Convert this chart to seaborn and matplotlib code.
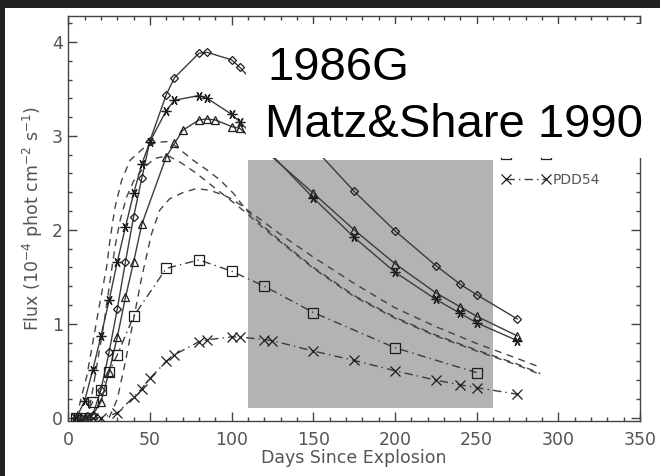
import matplotlib
matplotlib.use("Agg")
import matplotlib.pyplot as plt
from matplotlib.patches import Rectangle
from matplotlib.ticker import MultipleLocator
import seaborn as sns

# ---------------- data ----------------
dia_x = [5, 10, 15, 20, 25, 30, 35, 40, 45, 50, 60, 65, 80, 85, 100, 105, 150, 175, 200, 225, 240, 250, 275]
dia_y = [0.0, 0.0, 0.03, 0.30, 0.70, 1.16, 1.66, 2.14, 2.55, 2.95, 3.44, 3.62, 3.88, 3.89, 3.81, 3.73, 2.88, 2.41, 1.99, 1.62, 1.42, 1.31, 1.05]

star_x = [5, 10, 15, 20, 25, 30, 35, 40, 45, 50, 60, 65, 80, 85, 100, 105, 150, 175, 200, 225, 240, 250, 275]
star_y = [0.0, 0.18, 0.51, 0.87, 1.25, 1.66, 2.03, 2.39, 2.70, 2.94, 3.27, 3.38, 3.43, 3.40, 3.23, 3.15, 2.34, 1.92, 1.55, 1.26, 1.11, 1.01, 0.82]

tri_x = [5, 10, 15, 20, 25, 30, 35, 40, 45, 60, 65, 70, 80, 85, 90, 100, 105, 150, 175, 200, 225, 240, 250, 275]
tri_y = [0.0, 0.0, 0.03, 0.17, 0.49, 0.86, 1.28, 1.66, 2.06, 2.78, 2.92, 3.06, 3.17, 3.18, 3.17, 3.10, 3.08, 2.39, 2.00, 1.64, 1.33, 1.18, 1.08, 0.87]

sq_x = [5, 10, 15, 20, 25, 30, 40, 60, 80, 100, 120, 150, 200, 250]
sq_y = [0.0, 0.0, 0.17, 0.30, 0.49, 0.67, 1.08, 1.59, 1.68, 1.56, 1.40, 1.12, 0.745, 0.48]

x54_x = [5, 10, 15, 20, 30, 40, 45, 50, 60, 65, 80, 85, 100, 105, 120, 125, 150, 175, 200, 225, 240, 250, 275]
x54_y = [0.0, 0.0, 0.0, 0.0, 0.05, 0.22, 0.31, 0.42, 0.60, 0.67, 0.81, 0.83, 0.86, 0.86, 0.83, 0.82, 0.71, 0.61, 0.50, 0.40, 0.35, 0.32, 0.25]

modA_x = [5, 8, 11.3, 15.3, 19.4, 23.5, 25.5, 28.6, 32.7, 37.8, 46, 54, 60, 65, 69.4, 76.5, 84.7, 92.9, 101, 109, 120, 130, 150, 175, 200, 225, 250, 275, 289]
modA_y = [0.0, 0.22, 0.44, 0.83, 1.23, 1.61, 1.89, 2.24, 2.53, 2.74, 2.87, 2.93, 2.94, 2.90, 2.84, 2.74, 2.64, 2.53, 2.39, 2.21, 2.03, 1.88, 1.60, 1.30, 1.07, 0.88, 0.72, 0.57, 0.47]

modB_x = [10, 12, 14, 17.4, 21.8, 25.5, 28.6, 31.7, 35.7, 40, 46, 53, 61, 69.4, 78.6, 88.7, 99, 109, 120, 130, 150, 175, 200, 225, 250, 275, 289]
modB_y = [0.0, 0.05, 0.2, 0.55, 1.0, 1.45, 1.82, 2.10, 2.35, 2.52, 2.66, 2.76, 2.79, 2.71, 2.60, 2.46, 2.32, 2.18, 2.01, 1.87, 1.59, 1.29, 1.06, 0.87, 0.71, 0.56, 0.46]

modC_x = [25, 30, 35, 40, 45, 51, 56, 62, 70.5, 78.6, 86.8, 95, 101, 109, 120, 130, 150, 175, 200, 225, 250, 275, 287]
modC_y = [0.0, 0.2, 0.6, 1.05, 1.5, 1.96, 2.21, 2.33, 2.40, 2.44, 2.42, 2.37, 2.32, 2.22, 2.08, 1.95, 1.71, 1.43, 1.17, 0.97, 0.79, 0.63, 0.55]

legend_labels = [" ", "PDD54"]
shade_x = [110, 260]
shade_y = [0.1, 2.74]

# ---------------- style ----------------
sns.set_style("ticks")
plt.rcParams["font.family"] = ["DejaVu Sans"]

W, H = 660, 476
fig = plt.figure(figsize=(W / 100, H / 100), dpi=100)
fig.patch.set_facecolor("#222222")
fig.patches.append(Rectangle((5 / W, 0), 1, 468 / H, transform=fig.transFigure,
                             facecolor="white", edgecolor="none", zorder=-1))

ax = fig.add_axes([68.3 / W, 1 - 421 / H, (640 - 68.3) / W, (421 - 15.7) / H])
ax.set_facecolor("white")

lc = "#3c3c3c"
mc = "#1e1e1e"

def series(x, y, marker, ms, ls, dashes=None):
    kw = dict(color=lc, lw=1.0, marker=marker, markersize=ms, markerfacecolor="none",
              markeredgecolor=mc, markeredgewidth=0.9, zorder=3)
    if dashes is not None:
        kw["dashes"] = dashes
    else:
        kw["linestyle"] = ls
    sns.lineplot(x=x, y=y, ax=ax, sort=False, estimator=None, **kw)
    return ax.get_lines()[-1]

# shaded box
ax.add_patch(Rectangle((shade_x[0], shade_y[0]), shade_x[1] - shade_x[0], shade_y[1] - shade_y[0],
                       facecolor="#b3b3b3", edgecolor="none", zorder=1.5))

for mx, my in [(modA_x, modA_y), (modB_x, modB_y), (modC_x, modC_y)]:
    sns.lineplot(x=mx, y=my, ax=ax, sort=False, estimator=None, color="#444444",
                 lw=1.0, dashes=(5, 4), zorder=2.5)

series(dia_x, dia_y, "D", 4.3, "-")
series(star_x, star_y, (6, 2, 90), 7, "-")
series(tri_x, tri_y, "^", 6, "-")
h_sq = series(sq_x, sq_y, "s", 6.7, None, dashes=(6, 3, 1, 3))
h_54 = series(x54_x, x54_y, "x", 7, None, dashes=(6, 3, 1, 3))

ax.set_xlim(0, 350)
ax.set_ylim(-0.035, 4.28)
ax.xaxis.set_major_locator(MultipleLocator(50))
ax.xaxis.set_minor_locator(MultipleLocator(10))
ax.yaxis.set_major_locator(MultipleLocator(1))
ax.yaxis.set_minor_locator(MultipleLocator(0.2))
ax.tick_params(which="both", direction="in", top=True, right=True, color="#444444",
               labelcolor="#555555", labelsize=12.5, width=1)
ax.tick_params(which="major", length=6.5)
ax.tick_params(which="minor", length=3.2)
ax.tick_params(axis="x", which="major", pad=7)
ax.tick_params(axis="y", which="major", pad=4)
for s in ax.spines.values():
    s.set_color("#444444")
    s.set_linewidth(1.0)
    s.set_visible(True)

ax.set_xlabel("Days Since Explosion", fontsize=12.5, color="#555555", labelpad=0)
ax.set_ylabel("Flux (10$^{-4}$ phot cm$^{-2}$ s$^{-1}$)", fontsize=12.5, color="#555555", labelpad=5)

leg = ax.legend([h_sq, h_54], legend_labels, loc="upper left", bbox_to_anchor=(0.7586, 0.673),
                frameon=False, fontsize=10, numpoints=2, handlelength=3.45, handletextpad=0.2,
                borderpad=0, borderaxespad=0, labelspacing=0.75, labelcolor="#555555")

# white annotation box + title text
fig.patches.append(Rectangle((246 / W, 1 - 158 / H), 1, (158 - 24) / H, transform=fig.transFigure,
                             facecolor="white", edgecolor="none", zorder=1))
fig.text(267 / W, 1 - 80 / H, "1986G", fontsize=34, family=["Liberation Sans"], va="baseline",
         color="black", zorder=3)
fig.text(265 / W, 1 - 137 / H, "Matz&Share 1990", fontsize=34, family=["Liberation Sans"],
         va="baseline", color="black", zorder=3)

fig.savefig("out.png", dpi=100, facecolor=fig.get_facecolor())
